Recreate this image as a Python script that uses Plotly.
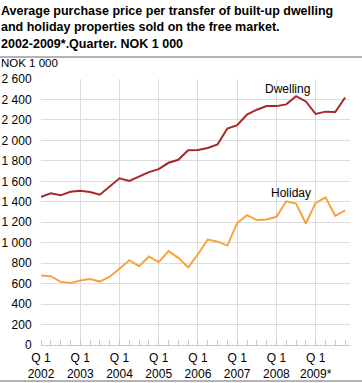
import plotly.graph_objects as go

quarters = list(range(32))  # 2002Q1 .. 2009Q4
dwelling = [1449, 1482, 1463, 1498, 1508, 1495, 1469, 1547,
            1629, 1603, 1645, 1690, 1719, 1781, 1810, 1903,
            1906, 1926, 1961, 2116, 2148, 2252, 2300, 2335,
            2335, 2352, 2432, 2381, 2258, 2281, 2277, 2419]
holiday = [680, 672, 617, 605, 630, 645, 620, 667,
           745, 829, 771, 865, 810, 917, 852, 758,
           887, 1030, 1010, 972, 1192, 1269, 1221, 1227,
           1253, 1405, 1383, 1188, 1389, 1444, 1263, 1315]
tick_pos = [0, 4, 8, 12, 16, 20, 24, 28]
tick_text = ["Q 1<br>2002", "Q 1<br>2003", "Q 1<br>2004", "Q 1<br>2005",
             "Q 1<br>2006", "Q 1<br>2007", "Q 1<br>2008", "Q 1<br>2009*"]
y_ticks = list(range(0, 2601, 200))
y_text = [f"{v:,}".replace(",", " ") for v in y_ticks]

FONT = "Liberation Sans, Arial, sans-serif"
W, H = 362, 383
L, R, T, B = 41, 12, 79, 38
PW = W - L - R
PH = H - T - B

fig = go.Figure()
fig.add_trace(go.Scatter(x=quarters, y=dwelling, mode="lines", name="Dwelling",
                         line=dict(color="#a8282a", width=2), hoverinfo="skip"))
fig.add_trace(go.Scatter(x=quarters, y=holiday, mode="lines", name="Holiday",
                         line=dict(color="#f7a33f", width=2), hoverinfo="skip"))

fig.update_layout(
    width=W, height=H,
    margin=dict(l=L, r=R, t=T, b=B, pad=0),
    paper_bgcolor="white", plot_bgcolor="white",
    showlegend=False,
    font=dict(family=FONT, size=12, color="#000000"),
    xaxis=dict(range=[0, 31.5], tickmode="array", tickvals=tick_pos, ticktext=tick_text,
               showgrid=True, gridcolor="#dcdce0", gridwidth=1, automargin=False,
               zeroline=False, showline=True, linecolor="#c8c8cc", linewidth=1,
               ticks="outside", ticklen=2, tickcolor="rgba(0,0,0,0)",
               tickfont=dict(size=12, family=FONT),
               minor=dict(dtick=1, tick0=0, ticks="inside", ticklen=5,
                          tickcolor="#c8c8cc", showgrid=False),
               fixedrange=True),
    yaxis=dict(range=[0, 2600], tickmode="array", tickvals=y_ticks, ticktext=y_text,
               showgrid=True, gridcolor="#dcdce0", gridwidth=1, automargin=False,
               zeroline=False, showline=False, ticks="outside", ticklen=6,
               tickcolor="rgba(0,0,0,0)", tickfont=dict(size=12, family=FONT),
               fixedrange=True),
)

fig.add_annotation(text="<b>Average purchase price per transfer of built-up dwelling<br>"
                        "and holiday properties sold on the free market.<br>"
                        "2002-2009*.Quarter. NOK 1 000</b>",
                   xref="paper", yref="paper", x=-L / PW, y=1 + (T - 3) / PH,
                   xanchor="left", yanchor="top", align="left", showarrow=False,
                   borderpad=0,
                   font=dict(size=12.5, family=FONT, color="#000000"))
fig.add_annotation(text="NOK 1 000", xref="paper", yref="paper",
                   x=-L / PW, y=1 + (T - 56) / PH, xanchor="left", yanchor="top",
                   showarrow=False, borderpad=0, font=dict(size=11.5, family=FONT))
fig.add_annotation(text="Dwelling", x=25.1, y=2503, xanchor="center", yanchor="middle",
                   showarrow=False, font=dict(size=12, family=FONT))
fig.add_annotation(text="Holiday", x=25.5, y=1485, xanchor="center", yanchor="middle",
                   showarrow=False, font=dict(size=12, family=FONT))

fig.add_shape(type="line", xref="paper", yref="paper",
              x0=-L / PW, x1=1 + R / PW, y0=1 + (T - 57) / PH, y1=1 + (T - 57) / PH,
              line=dict(color="#9a9a9a", width=1.5))
fig.add_shape(type="line", xref="paper", yref="paper",
              x0=-L / PW, x1=1 + R / PW, y0=-(B - 2) / PH, y1=-(B - 2) / PH,
              line=dict(color="#9a9a9a", width=1.5))

fig.write_html("out.html", config={"displayModeBar": False},
               post_script="document.body.style.margin='0';document.body.style.overflow='hidden';")
